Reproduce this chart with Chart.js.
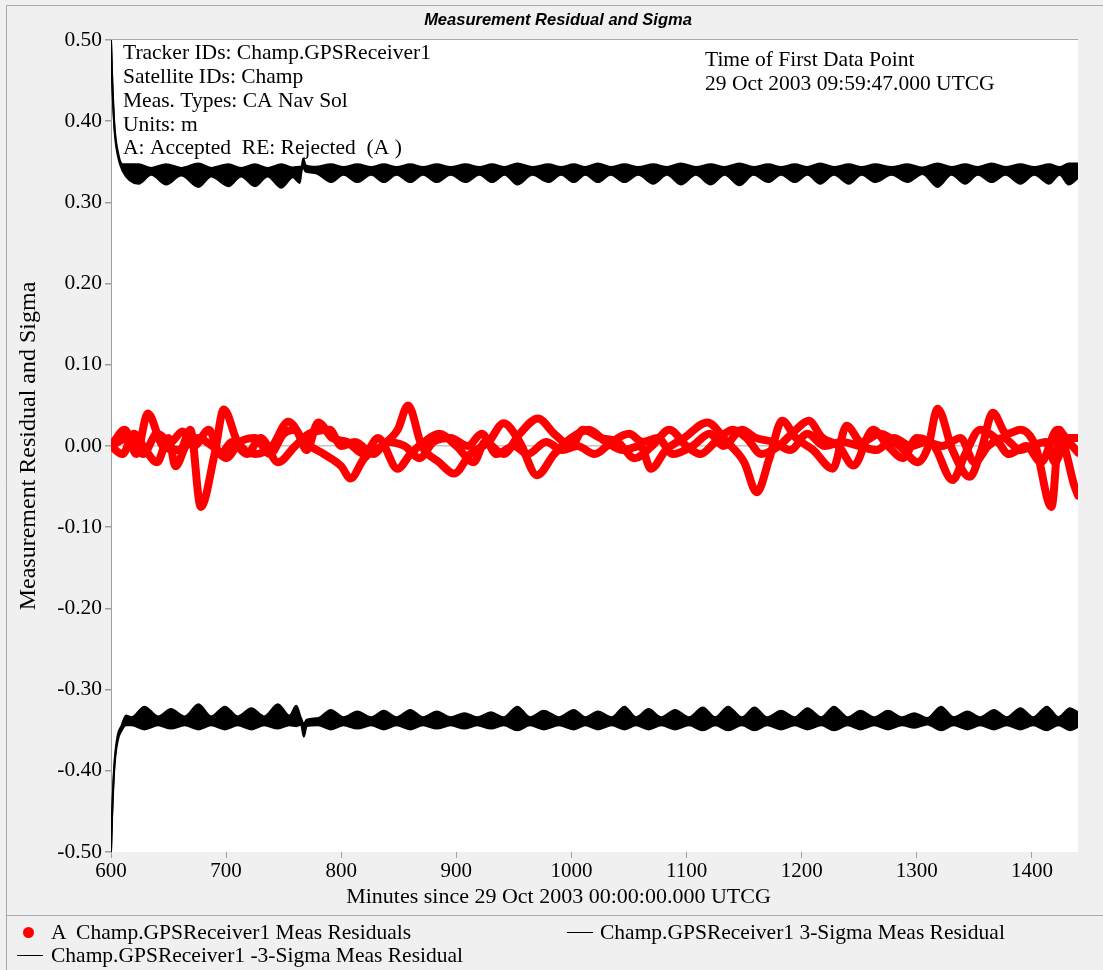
<!DOCTYPE html>
<html><head><meta charset="utf-8">
<script src="https://cdn.jsdelivr.net/npm/chart.js@4/dist/chart.umd.min.js"></script>
<style>
html,body{margin:0;padding:0;background:#f0f0f0;}
#wrap{position:relative;width:1103px;height:970px;overflow:hidden;background:#f0f0f0;}
canvas{position:absolute;left:0;top:0;}
.leg{position:absolute;font:21.5px "Liberation Serif","Times New Roman",serif;color:#000;white-space:pre;line-height:24px;}
.dot{position:absolute;width:11px;height:11px;border-radius:50%;background:#ff0000;}
.ln{position:absolute;height:1px;background:#000;width:26px;}
</style></head>
<body><div id="wrap"><canvas id="c" width="1103" height="970"></canvas><div id="legend"></div></div>
<script>
// ---- tick labels ----
const xTickValues = [600,700,800,900,1000,1100,1200,1300,1400];
const yTickValues = [-0.5,-0.4,-0.3,-0.2,-0.1,0,0.1,0.2,0.3,0.4,0.5];
const yTickLabels = ['-0.50','-0.40','-0.30','-0.20','-0.10','0.00','0.10','0.20','0.30','0.40','0.50'];

// ---- residuals (three components, one legend entry) ----
const resATimes = [600,612,622,632,645,660,669,678,690,698,710,725,740,754,768,785,800,808,820,835,849,858,870,885,898,912,928,941,955,970,985,1000,1015,1030,1045,1060,1069,1082,1098,1118,1135,1150,1161,1172,1183,1195,1210,1227,1239,1252,1268,1285,1301,1310,1318,1331,1346,1356,1366,1378,1390,1403,1417,1424,1430,1436,1440];
const resAValues = [0,0.02,-0.01,0.04,0.0,-0.005,0.02,-0.075,-0.01,0.045,0.005,-0.01,0.0,0.03,0.005,-0.01,-0.025,-0.04,-0.015,0.0,0.02,0.05,0.0,-0.02,-0.034,-0.01,0.005,0.028,0.005,-0.036,-0.01,0.01,0.02,0.005,-0.005,0.0,-0.028,-0.005,0.01,0.029,0.005,-0.02,-0.057,-0.015,0.031,0.01,-0.005,-0.028,0.025,0.005,0.015,0.0,-0.02,0.0,0.046,-0.005,-0.038,-0.005,0.041,0.015,0.02,0.0,-0.075,0.02,-0.01,-0.045,-0.061];
const resBTimes = [600,610,620,630,640,650,656,665,675,688,700,712,725,738,750,760,770,780,792,805,820,832,849,860,872,885,900,915,925,941,955,971,985,1000,1010,1025,1040,1055,1070,1085,1100,1112,1125,1140,1152,1165,1180,1195,1206,1218,1232,1245,1262,1275,1288,1300,1315,1331,1342,1355,1368,1380,1395,1408,1422,1432,1440];
const resBValues = [0,-0.01,0.015,-0.005,-0.02,0.01,-0.025,0.0,0.01,0.0,-0.015,0.005,0.01,-0.01,0.015,0.02,-0.005,0.029,0.01,0.005,-0.01,0.01,-0.028,-0.01,0.005,0.015,0.0,-0.02,0.005,-0.01,0.015,0.034,0.015,0.0,0.02,0.01,0.005,-0.015,0.0,0.02,0.0,-0.01,0.005,0.02,0.01,-0.01,0.0,0.02,0.031,0.01,0.0,-0.024,0.02,0.0,-0.015,0.01,0.0,-0.042,-0.01,0.02,0.01,-0.01,0.0,-0.02,0.02,0.005,-0.008];
const resCTimes = [600,615,628,640,652,662,672,685,695,705,718,730,745,760,772,790,800,812,828,840,855,868,880,895,910,922,935,950,962,978,992,1005,1020,1035,1050,1062,1075,1088,1105,1120,1132,1148,1160,1175,1190,1205,1220,1235,1250,1265,1280,1295,1308,1322,1338,1350,1362,1375,1390,1400,1412,1420,1430,1440];
const resCValues = [0,0.01,-0.01,0.015,0.005,0.018,0.0,0.02,-0.01,0.005,-0.01,0.01,-0.02,0.0,0.015,0.02,0.0,0.005,-0.01,0.005,0.0,-0.015,0.005,0.01,0.0,0.015,-0.01,0.0,-0.01,0.005,-0.005,0.0,-0.01,0.005,0.015,0.005,0.01,-0.01,0.0,0.015,0.0,0.02,0.01,0.005,-0.005,0.015,0.0,0.005,0.0,-0.005,0.01,0.0,0.005,0.0,0.01,-0.02,0.0,0.01,-0.005,0.0,0.005,-0.02,0.01,0.01];

// ---- +3 sigma band (outer / inner envelope) ----
const upTimes = [600,601,603,606,610,624,635,648,661,676,687,702,713,725,736,748,758,764,765.5,767,769,778,791,802,814,826,837,848,860,871,883,895,908,920,931,942,953,966,980,991,1002,1012,1023,1034,1046,1058,1071,1083,1095,1108,1121,1133,1146,1158,1171,1182,1194,1205,1216,1228,1241,1252,1264,1278,1292,1305,1318,1330,1342,1353,1365,1377,1390,1402,1415,1424,1432,1440];
const upHigh = [0.500,0.455,0.395,0.362,0.347,0.347,0.3425,0.347,0.3425,0.348,0.3425,0.347,0.3425,0.347,0.3425,0.347,0.343,0.344,0.344,0.354,0.346,0.344,
  0.347,0.3435,0.347,0.3435,0.347,0.3435,0.347,0.3435,0.347,0.3435,0.347,0.3435,0.347,0.3435,0.348,0.3435,0.347,0.3435,0.347,0.3435,0.348,0.3435,0.347,0.3435,0.347,0.3435,0.348,0.3435,0.347,0.3435,0.348,0.3435,0.347,0.3435,0.347,0.3435,0.348,0.3435,0.347,0.3435,0.347,0.3435,0.347,0.343,0.348,0.3435,0.347,0.3435,0.348,0.3435,0.347,0.3435,0.347,0.3435,0.348,0.348];
const upLow = [0.500,0.450,0.390,0.357,0.339,0.323,0.334,0.322,0.333,0.319,0.332,0.320,0.332,0.320,0.332,0.318,0.331,0.324,0.338,0.343,0.338,0.336,
  0.325,0.334,0.325,0.334,0.325,0.334,0.325,0.334,0.325,0.334,0.325,0.334,0.325,0.334,0.322,0.334,0.325,0.334,0.325,0.334,0.325,0.334,0.325,0.334,0.323,0.334,0.322,0.334,0.322,0.334,0.321,0.334,0.325,0.334,0.325,0.334,0.323,0.334,0.323,0.334,0.325,0.334,0.325,0.335,0.319,0.334,0.323,0.334,0.325,0.334,0.323,0.334,0.323,0.334,0.322,0.330];

// ---- -3 sigma band ----
const loTimes = [600,601,603,606,609,613,618,629,641,652,664,676,687,699,710,722,733,745,755,761,765,767.5,770,780,791,802,814,826,837,848,860,871,883,895,907,918,930,941,953,964,976,989,1002,1012,1023,1035,1046,1056,1067,1078,1090,1102,1114,1125,1136,1148,1159,1170,1182,1194,1205,1217,1228,1240,1251,1263,1275,1287,1298,1309,1321,1332,1344,1355,1367,1378,1390,1401,1413,1423,1433,1440];
const loHigh = [-0.500,-0.450,-0.390,-0.355,-0.345,-0.332,-0.334,-0.321,-0.333,-0.324,-0.333,-0.318,-0.333,-0.321,-0.333,-0.323,-0.333,-0.318,-0.332,-0.320,-0.335,-0.342,-0.337,-0.335,
  -0.325,-0.334,-0.327,-0.334,-0.326,-0.334,-0.325,-0.334,-0.327,-0.334,-0.329,-0.334,-0.328,-0.334,-0.321,-0.334,-0.326,-0.334,-0.325,-0.334,-0.327,-0.334,-0.321,-0.334,-0.324,-0.334,-0.325,-0.334,-0.322,-0.334,-0.321,-0.334,-0.322,-0.334,-0.326,-0.334,-0.323,-0.334,-0.321,-0.334,-0.326,-0.334,-0.326,-0.334,-0.329,-0.335,-0.321,-0.334,-0.327,-0.334,-0.325,-0.334,-0.323,-0.334,-0.321,-0.334,-0.323,-0.328];
const loLow = [-0.500,-0.455,-0.395,-0.362,-0.351,-0.344,-0.344,-0.349,-0.344,-0.348,-0.344,-0.349,-0.344,-0.349,-0.344,-0.349,-0.344,-0.348,-0.344,-0.345,-0.343,-0.358,-0.345,-0.344,
  -0.349,-0.344,-0.348,-0.344,-0.349,-0.344,-0.349,-0.344,-0.348,-0.344,-0.348,-0.344,-0.348,-0.344,-0.350,-0.344,-0.349,-0.344,-0.349,-0.344,-0.349,-0.344,-0.349,-0.344,-0.349,-0.344,-0.349,-0.344,-0.350,-0.344,-0.350,-0.344,-0.350,-0.344,-0.349,-0.344,-0.349,-0.344,-0.350,-0.344,-0.349,-0.344,-0.349,-0.344,-0.347,-0.343,-0.350,-0.344,-0.349,-0.344,-0.349,-0.344,-0.349,-0.344,-0.350,-0.344,-0.350,-0.346];

const chartTitle = 'Measurement Residual and Sigma';
const xAxisTitle = 'Minutes since 29 Oct 2003 00:00:00.000 UTCG';
const yAxisTitle = 'Measurement Residual and Sigma';
const seriesLabels = ['A  Champ.GPSReceiver1 Meas Residuals','Champ.GPSReceiver1 3-Sigma Meas Residual','Champ.GPSReceiver1 -3-Sigma Meas Residual'];
const infoLeft = ['Tracker IDs: Champ.GPSReceiver1','Satellite IDs: Champ','Meas. Types: CA Nav Sol','Units: m','A: Accepted  RE: Rejected  (A )'];
const infoRight = ['Time of First Data Point','29 Oct 2003 09:59:47.000 UTCG'];

const pts = (t, v) => t.map((x, i) => ({x: x, y: v[i]}));
const SERIF = '"Liberation Serif","Times New Roman",serif';

const redDs = (t, v, label) => ({label, data: pts(t, v), borderColor:'#ff0000', borderWidth:8, pointRadius:0,
  cubicInterpolationMode:'monotone', fill:false, borderCapStyle:'round', borderJoinStyle:'round'});
const sigDs = (t, v, label, fill) => ({label, data: pts(t, v), borderColor:'#000', backgroundColor:'#000', borderWidth:2,
  pointRadius:0, cubicInterpolationMode:'monotone', fill: fill});

const bgPlugin = {
  id:'bg',
  beforeDraw(chart){
    const ctx = chart.ctx, a = chart.chartArea;
    ctx.save();
    ctx.fillStyle = '#f0f0f0'; ctx.fillRect(0,0,chart.width,chart.height);
    ctx.fillStyle = '#ffffff'; ctx.fillRect(a.left, a.top, a.right - a.left, a.bottom - a.top);
    ctx.strokeStyle = '#a8a8a8'; ctx.lineWidth = 1;
    ctx.beginPath();
    ctx.moveTo(6.5, chart.height); ctx.lineTo(6.5, 5.5); ctx.lineTo(chart.width, 5.5);
    ctx.moveTo(6.5, 915.5); ctx.lineTo(chart.width, 915.5);
    ctx.moveTo(a.left, a.top - 0.5); ctx.lineTo(a.right, a.top - 0.5);
    ctx.stroke();
    ctx.fillStyle = '#000'; ctx.textAlign = 'center'; ctx.textBaseline = 'middle';
    ctx.font = 'italic bold 16.5px "Liberation Sans",Arial,sans-serif';
    ctx.fillText(chartTitle, 558, 20);
    ctx.font = '22px ' + SERIF;
    ctx.fillText(xAxisTitle, 558.5, 897);
    ctx.restore();
  },
  afterDraw(chart){
    const ctx = chart.ctx;
    ctx.save();
    ctx.fillStyle = '#000'; ctx.font = '21.5px ' + SERIF; ctx.textBaseline = 'middle'; ctx.textAlign = 'left';
    infoLeft.forEach((s, i) => ctx.fillText(s, 123, 53.5 + i * 23.8));
    infoRight.forEach((s, i) => ctx.fillText(s, 705, 60 + i * 24));
    ctx.restore();
  }
};

new Chart(document.getElementById('c'), {
  type:'line',
  data:{ datasets:[
    redDs(resATimes, resAValues, seriesLabels[0]),
    redDs(resBTimes, resBValues, seriesLabels[0]),
    redDs(resCTimes, resCValues, seriesLabels[0]),
    sigDs(upTimes, upHigh, seriesLabels[1], false),
    sigDs(upTimes, upLow, seriesLabels[1], '-1'),
    sigDs(loTimes, loHigh, seriesLabels[2], false),
    sigDs(loTimes, loLow, seriesLabels[2], '-1')
  ]},
  options:{
    responsive:false, animation:false, devicePixelRatio:1,
    layout:{padding:{left:0, right:25, top:40, bottom:58}},
    plugins:{ legend:{display:false}, tooltip:{enabled:false}, title:{display:false} },
    scales:{
      x:{type:'linear', min:600, max:1440,
        afterBuildTicks: s => { s.ticks = xTickValues.map(v => ({value:v})); },
        afterFit: s => { s.height = 60; },
        ticks:{autoSkip:false, maxRotation:0, color:'#000', font:{family:SERIF, size:21}, padding:1,
          callback: v => String(v)},
        grid:{color:'rgba(0,0,0,0)', tickColor:'#a0a0a0', tickLength:6},
        border:{display:false},
        title:{display:false}
      },
      y:{type:'linear', min:-0.5, max:0.5,
        afterBuildTicks: s => { s.ticks = yTickValues.map(v => ({value:v})); },
        afterFit: s => { s.width = 111; },
        ticks:{color:'#000', font:{family:SERIF, size:21.5}, padding:3,
          callback: (v, i) => yTickLabels[i]},
        grid:{color: c => (c.tick && c.tick.value === 0) ? '#c4c4c4' : 'rgba(0,0,0,0)', tickColor:'#a0a0a0', tickLength:6, lineWidth:1.5},
        border:{color:'#a0a0a0', width:1},
        title:{display:true, text:yAxisTitle, color:'#000',
          font:{family:SERIF, size:24}, padding:{top:14, bottom:0}}
      }
    }
  },
  plugins:[bgPlugin]
});

// HTML legend
const leg = document.getElementById('legend');
leg.innerHTML =
  '<div class="dot" style="left:23px;top:927px"></div>' +
  '<div class="leg" style="left:51px;top:920px">' + seriesLabels[0] + '</div>' +
  '<div class="ln" style="left:567px;top:932px"></div>' +
  '<div class="leg" style="left:600px;top:920px">' + seriesLabels[1] + '</div>' +
  '<div class="ln" style="left:17px;top:955px"></div>' +
  '<div class="leg" style="left:51px;top:943px">' + seriesLabels[2] + '</div>';
</script>
</body></html>
